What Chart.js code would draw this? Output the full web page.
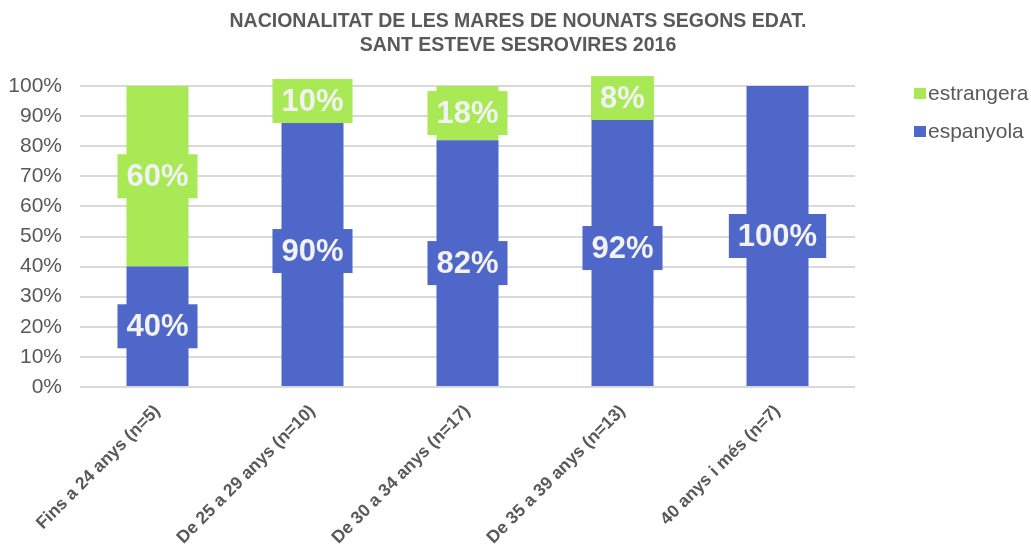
<!DOCTYPE html>
<html>
<head>
<meta charset="utf-8">
<script src="https://cdn.jsdelivr.net/npm/chart.js@4.4.1/dist/chart.umd.min.js"></script>
<style>
  html, body { margin: 0; padding: 0; background: #fff; }
  #wrap { width: 1031px; height: 552px; position: relative; }
</style>
</head>
<body>
<div id="wrap"><canvas id="barChart"></canvas></div>
<script>
const categories = ['Fins a 24 anys (n=5)', 'De 25 a 29 anys (n=10)', 'De 30 a 34 anys (n=17)', 'De 35 a 39 anys (n=13)', '40 anys i més (n=7)'];
const espanyola = [40, 90, 82, 92, 100];
const estrangera = [60, 10, 18, 8, 0];
const titleLines = ['NACIONALITAT DE LES MARES DE NOUNATS SEGONS EDAT.', 'SANT ESTEVE SESROVIRES 2016'];

const blue = '#4E67C8';
const green = '#A9E955';
const gray = '#595959';
const fontFamily = '"Liberation Sans", Arial, sans-serif';

// value boxes drawn on top of each segment
const boxLabels = {
    id: 'boxLabels',
    afterDatasetsDraw(chart) {
        const ctx = chart.ctx;
        ctx.save();
        ctx.font = 'bold 31px ' + fontFamily;
        ctx.textAlign = 'center';
        ctx.textBaseline = 'middle';
        chart.data.datasets.forEach((ds, i) => {
            const meta = chart.getDatasetMeta(i);
            meta.data.forEach((bar, j) => {
                const v = ds.data[j];
                if (!v) return;
                const text = v + '%';
                const cy = (bar.y + bar.base) / 2;
                const w = ctx.measureText(text).width + 18;
                const h = 44;
                ctx.fillStyle = ds.backgroundColor;
                ctx.fillRect(bar.x - w / 2, cy - h / 2, w, h);
                ctx.fillStyle = '#F2F2F2';
                ctx.fillText(text, bar.x, cy + 1);
            });
        });
        ctx.restore();
    }
};

// title centred on the whole canvas + legend on the right (estrangera first)
const sideParts = {
    id: 'sideParts',
    afterDraw(chart) {
        const ctx = chart.ctx;
        ctx.save();
        ctx.font = 'bold 19.5px ' + fontFamily;
        ctx.textAlign = 'center';
        ctx.textBaseline = 'middle';
        ctx.fillStyle = gray;
        titleLines.forEach((line, k) => ctx.fillText(line, 518, 22 + k * 24));

        const items = [[green, 'estrangera'], [blue, 'espanyola']];
        ctx.font = '21px ' + fontFamily;
        ctx.textAlign = 'left';
        items.forEach((it, k) => {
            const y = 93 + k * 38;
            ctx.fillStyle = it[0];
            ctx.fillRect(914, y - 5, 12, 11);
            ctx.fillStyle = gray;
            ctx.fillText(it[1], 928, y + 1);
        });
        ctx.restore();
    }
};

const ctx = document.getElementById('barChart').getContext('2d');
new Chart(ctx, {
    type: 'bar',
    data: {
        labels: categories,
        datasets: [
            { label: 'espanyola', data: espanyola, backgroundColor: blue },
            { label: 'estrangera', data: estrangera, backgroundColor: green }
        ]
    },
    options: {
        responsive: true,
        maintainAspectRatio: false,
        animation: false,
        barPercentage: 0.4,
        categoryPercentage: 1,
        layout: { padding: { left: 0, right: 176, top: 86, bottom: 0 } },
        plugins: {
            legend: { display: false },
            tooltip: { enabled: false },
            title: { display: false }
        },
        scales: {
            x: {
                stacked: true,
                grid: { display: false },
                border: { display: false },
                ticks: {
                    color: gray,
                    font: { family: fontFamily, size: 17.5, weight: 'bold' },
                    maxRotation: 45,
                    minRotation: 45,
                    padding: 6
                },
                afterFit: (scale) => { scale.height = 165; }
            },
            y: {
                stacked: true,
                min: 0,
                max: 100,
                grid: { color: '#D9D9D9', lineWidth: 2, drawTicks: false },
                border: { display: false },
                ticks: {
                    stepSize: 10,
                    color: gray,
                    font: { family: fontFamily, size: 21 },
                    padding: 18,
                    callback: (v) => v + '%'
                },
                afterFit: (scale) => { scale.width = 80; }
            }
        }
    },
    plugins: [boxLabels, sideParts]
});
</script>
</body>
</html>
